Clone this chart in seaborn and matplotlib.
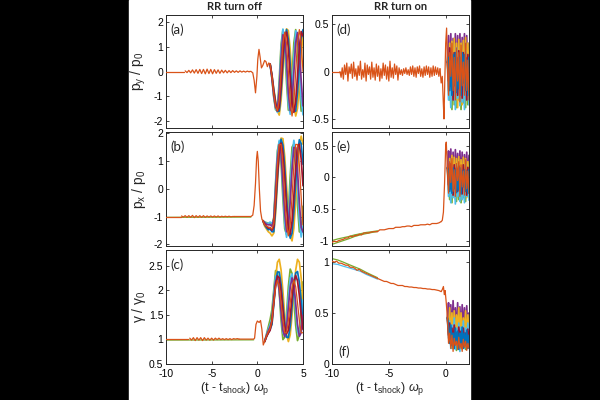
import numpy as np
import matplotlib
matplotlib.use("Agg")
import matplotlib.pyplot as plt
from matplotlib.patches import Rectangle
import seaborn as sns

# MATLAB default line colours, drawing order (orange ends on top)
cols = ['#77AC30', '#EDB120', '#4DBEEE', '#0072BD', '#7E2F8E', '#A2142F', '#D95319']
cols_r = ['#77AC30', '#7E2F8E', '#EDB120', '#4DBEEE', '#A2142F', '#0072BD', '#D95319']

# ---------- (a) p_y / p_0, RR turn off ----------
a_flat_t = [-10, -8.0]
a_flat_y = [0.0, 0.0]
a_wig_t = np.linspace(-7.9, -0.9, 36)
a_wig_y = [0.03, -0.04, 0.05, -0.05, 0.07, -0.06, 0.08, -0.07, 0.09, -0.08,
           0.09, -0.09, 0.1, -0.08, 0.09, -0.09, 0.08, -0.07, 0.07, -0.07,
           0.06, -0.05, 0.05, -0.05, 0.04, -0.04, 0.04, -0.03, 0.03, -0.03,
           0.03, -0.02, 0.02, -0.02, 0.02, -0.01]
a_shock_t = [-0.9, -0.7, -0.5, -0.35, -0.2, -0.05, 0.05, 0.18, 0.3, 0.45, 0.6, 0.8, 0.95, 1.1, 1.25, 1.4]
a_shock_y = [0.0, 0.01, -0.05, -0.35, -0.86, -0.2, 0.5, 0.9, 0.6, 0.15, 0.25, 0.45, 0.4, 0.2, 0.35, 0.3]
a_post_t = np.linspace(1.4, 5.0, 19)
a_post = [
    [0.3, -0.3, -1.05, -1.55, -1.5, -0.34, 1.1, 1.7, 1.0, -0.46, -1.56, -1.5, -0.27, 1.16, 1.7, 0.97, -0.53, -1.6, -1.45],
    [0.3, -0.13, -0.7, -1.2, -1.6, -1.76, -1.17, -0.07, 1.06, 1.73, 1.66, 0.88, -0.29, -1.31, -1.8, -1.49, -0.56, 0.63, 1.53],
    [0.3, -0.27, -1.0, -1.48, -1.65, -0.6, 0.88, 1.72, 1.35, 0.0, -1.33, -1.73, -0.89, 0.58, 1.65, 1.52, 0.33, -1.12, -1.75],
    [0.3, -0.15, -0.75, -1.25, -1.6, -1.6, -0.83, 0.31, 1.31, 1.7, 1.29, 0.27, -0.87, -1.6, -1.6, -0.83, 0.32, 1.33, 1.7],
    [0.3, -0.25, -0.97, -1.45, -1.55, -0.75, 0.54, 1.49, 1.42, 0.4, -0.9, -1.58, -1.22, -0.03, 1.17, 1.58, 0.94, -0.35, -1.39],
    [0.3, -0.17, -0.8, -1.3, -1.6, -1.45, -0.56, 0.59, 1.47, 1.6, 0.94, -0.23, -1.25, -1.65, -1.2, -0.17, 0.97, 1.62, 1.44],
    [0.3, -0.2, -0.9, -1.4, -1.6, -1.15, 0.0, 1.15, 1.6, 1.15, 0.0, -1.25, -1.8, -1.25, 0.0, 1.2, 1.7, 1.2, 0.0],
]

# ---------- (b) p_x / p_0, RR turn off ----------
b_flat_t = [-10, -8.4]
b_flat_y = [-1.0, -1.0]
b_wig_t = np.linspace(-8.3, -2.5, 30)
b_wig_y = [-0.98, -1.02, -0.97, -1.03, -0.97, -1.03, -0.96, -1.04, -0.97, -1.03,
           -0.97, -1.03, -0.97, -1.03, -0.98, -1.02, -0.98, -1.02, -0.98, -1.02,
           -0.98, -1.02, -0.99, -1.01, -0.99, -1.01, -0.99, -1.01, -1.0, -1.0]
b_shock_t = [-2.5, -0.7, -0.5, -0.35, -0.2, -0.08, 0.0, 0.1, 0.22, 0.35, 0.5, 0.6]
b_shock_y = [-1.0, -1.0, -0.95, -0.6, 0.2, 1.1, 1.35, 1.0, 0.0, -0.8, -1.1, -1.15]
b_low_t = [-10, -0.7]
b_low_y = [-1.03, -1.02]
b_post_t = np.linspace(0.6, 5.0, 23)
b_post = [
    [-1.15, -1.2, -1.22, -1.25, -1.25, -1.3, -1.04, 0.24, 1.38, 1.7, 0.95, -0.36, -1.44, -1.65, -0.85, 0.46, 1.5, 1.62, 0.74, -0.58, -1.55, -1.58, -0.63],
    [-1.15, -1.35, -1.45, -1.55, -1.6, -1.7, -1.6, -0.9, 0.19, 1.22, 1.83, 1.81, 1.17, 0.13, -0.95, -1.71, -1.88, -1.42, -0.46, 0.65, 1.54, 1.9, 1.61],
    [-1.15, -1.2, -1.25, -1.25, -1.2, -1.25, -1.15, 0.1, 1.29, 1.75, 1.21, -0.02, -1.24, -1.75, -1.24, -0.05, 1.18, 1.75, 1.31, 0.12, -1.14, -1.74, -1.35],
    [-1.15, -1.3, -1.4, -1.48, -1.45, -1.55, -1.55, -0.71, 0.38, 1.34, 1.79, 1.57, 0.77, -0.32, -1.3, -1.78, -1.6, -0.82, 0.26, 1.25, 1.77, 1.63, 0.88],
    [-1.15, -1.22, -1.28, -1.3, -1.3, -1.35, -1.1, -0.03, 1.07, 1.6, 1.26, 0.25, -0.89, -1.55, -1.38, -0.47, 0.7, 1.49, 1.48, 0.67, -0.49, -1.39, -1.56],
    [-1.15, -1.28, -1.35, -1.42, -1.4, -1.5, -1.37, -0.53, 0.51, 1.35, 1.65, 1.29, 0.4, -0.64, -1.43, -1.64, -1.18, -0.26, 0.77, 1.5, 1.61, 1.08, 0.11],
    [-1.15, -1.3, -1.35, -1.38, -1.4, -1.45, -1.25, -0.3, 0.85, 1.6, 1.6, 0.85, -0.3, -1.3, -1.7, -1.3, -0.3, 0.85, 1.6, 1.6, 0.85, -0.3, -1.3],
]

# ---------- (c) gamma / gamma_0, RR turn off ----------
c_flat_t = [-10, -7.6]
c_flat_y = [1.0, 1.0]
c_wig_t = np.linspace(-7.4, -2.0, 28)
c_wig_y = [1.02, 0.98, 1.03, 0.97, 1.03, 0.98, 1.03, 0.97, 1.03, 0.98,
           1.02, 0.98, 1.02, 0.98, 1.02, 0.99, 1.02, 0.99, 1.01, 0.99,
           1.01, 0.99, 1.01, 0.99, 1.01, 1.0, 1.01, 1.0]
c_shock_t = [-2.0, -0.4, -0.3, -0.15, 0.0, 0.2, 0.35, 0.5, 0.65, 0.8]
c_shock_y = [1.0, 1.0, 1.02, 1.3, 1.37, 1.34, 1.38, 1.2, 0.88, 0.95]
c_low_t = [-10, -0.4]
c_low_y = [0.98, 0.985]
c_post_t = np.linspace(0.8, 5.0, 22)
c_post = [
    [0.95, 1.1, 1.25, 1.4, 1.6, 2.0, 2.4, 2.38, 1.96, 1.37, 0.99, 1.04, 1.5, 2.08, 2.43, 2.34, 1.85, 1.28, 0.97, 1.09, 1.6, 2.17],
    [0.95, 1.05, 1.15, 1.25, 1.3, 1.77, 2.25, 2.57, 2.63, 2.41, 1.98, 1.48, 1.09, 0.95, 1.09, 1.48, 1.97, 2.41, 2.63, 2.57, 2.25, 1.77],
    [0.95, 1.08, 1.2, 1.3, 1.42, 1.91, 2.28, 2.32, 2.01, 1.53, 1.13, 1.07, 1.38, 1.86, 2.25, 2.33, 2.05, 1.56, 1.16, 1.06, 1.34, 1.8],
    [0.95, 1.05, 1.13, 1.2, 1.3, 1.71, 2.12, 2.37, 2.37, 2.12, 1.71, 1.31, 1.04, 1.03, 1.27, 1.67, 2.08, 2.35, 2.38, 2.16, 1.76, 1.34],
    [0.95, 1.07, 1.17, 1.25, 1.38, 1.81, 2.17, 2.24, 1.99, 1.57, 1.18, 1.05, 1.24, 1.65, 2.06, 2.25, 2.12, 1.73, 1.3, 1.06, 1.13, 1.49],
    [0.95, 1.05, 1.12, 1.18, 1.37, 1.74, 2.09, 2.29, 2.25, 1.98, 1.6, 1.27, 1.11, 1.18, 1.47, 1.84, 2.17, 2.3, 2.19, 1.89, 1.5, 1.2],
    [0.95, 1.06, 1.15, 1.22, 1.38, 1.74, 2.07, 2.2, 2.07, 1.74, 1.38, 1.13, 1.13, 1.38, 1.74, 2.07, 2.2, 2.07, 1.74, 1.38, 1.13, 1.13],
]

# ---------- (d) p_y / p_0, RR turn on ----------
d_flat_t = [-10, -9.3]
d_flat_y = [0.0, 0.0]
d_pre_t = np.linspace(-9.3, -0.5, 89)
d_pre_y = [0.0, -0.06, 0.04, -0.08, 0.07, -0.03, 0.09, -0.1, 0.05, -0.02,
           0.08, -0.07, 0.1, -0.05, 0.03, -0.09, 0.06, -0.04, 0.11, -0.08,
           0.02, -0.06, 0.09, -0.1, 0.07, -0.03, 0.05, -0.08, 0.1, -0.06,
           0.04, -0.09, 0.08, -0.05, 0.06, -0.1, 0.03, -0.07, 0.09, -0.04,
           0.07, -0.08, 0.05, -0.1, 0.11, -0.06, 0.04, -0.07, 0.08, -0.03,
           0.06, -0.09, 0.04,
           -0.03, 0.02, -0.04, 0.03, -0.02, 0.04, -0.03, 0.02, -0.04,
           0.05, -0.03, 0.06, -0.05, 0.04, -0.06, 0.05, -0.02, 0.06, -0.05,
           0.03, -0.06, 0.05, -0.04, 0.06, -0.03, 0.05, -0.06, 0.04, -0.05,
           0.06, -0.04, 0.05, -0.03, 0.04, -0.05, 0.03]
d_shock_t = [-0.5, -0.4, -0.3, -0.22, -0.15, -0.08, 0.0, 0.08, 0.15]
d_shock_y = [0.03, -0.12, -0.05, -0.3, -0.5, -0.1, 0.3, 0.46, 0.1]
r_post_t = np.linspace(0.15, 2.05, 20)
d_post = [
    [0.1, 0.25, -0.3, 0.2, -0.4, 0.3, -0.35, 0.22, -0.38, 0.25, -0.3, 0.28, -0.4, 0.2, -0.33, 0.3, -0.38, 0.25, -0.35, 0.2],
    [0.1, 0.38, -0.1, 0.4, -0.2, 0.35, 0.0, 0.4, -0.15, 0.38, -0.05, 0.4, -0.2, 0.36, 0.05, 0.4, -0.1, 0.38, -0.2, 0.3],
    [0.1, -0.2, 0.3, -0.35, 0.32, -0.25, 0.35, -0.3, 0.3, -0.38, 0.34, -0.2, 0.3, -0.35, 0.33, -0.3, 0.36, -0.25, 0.3, -0.2],
    [0.1, -0.3, 0.15, -0.38, 0.2, -0.3, 0.1, -0.4, 0.25, -0.28, 0.12, -0.36, 0.2, -0.32, 0.15, -0.4, 0.22, -0.3, 0.1, -0.35],
    [0.1, -0.1, 0.25, -0.15, 0.1, -0.3, 0.2, -0.1, 0.15, -0.25, 0.22, -0.12, 0.1, -0.28, 0.2, -0.08, 0.15, -0.3, 0.18, -0.1],
    [0.1, 0.15, -0.2, 0.1, -0.25, 0.18, -0.15, 0.2, -0.22, 0.1, -0.18, 0.15, -0.25, 0.2, -0.12, 0.18, -0.2, 0.12, -0.25, 0.15],
    [0.1, -0.25, 0.2, -0.05, 0.3, -0.2, 0.15, -0.3, 0.25, -0.1, 0.2, -0.32, 0.28, -0.15, 0.1, -0.25, 0.3, -0.2, 0.12, -0.3],
]

# ---------- (e) p_x / p_0, RR turn on ----------
e_pre_t = np.linspace(-10, -0.4, 49)
e_pre_y = [-1.03, -1.01, -1.02, -1.0, -0.99, -0.98, -0.96, -0.96, -0.93, -0.94,
           -0.92, -0.92, -0.9, -0.91, -0.88, -0.88, -0.88, -0.87, -0.86, -0.86,
           -0.86, -0.83, -0.83, -0.83, -0.82, -0.81, -0.81, -0.81, -0.79, -0.79,
           -0.79, -0.78, -0.78, -0.77, -0.77, -0.78, -0.76, -0.76, -0.76, -0.75,
           -0.75, -0.75, -0.74, -0.75, -0.73, -0.73, -0.73, -0.72, -0.7]
edge_t = [-10, -9.5, -9, -8.5, -8, -7.5, -7, -6.5, -6]
e_up_y = [-1.0, -0.975, -0.955, -0.935, -0.91, -0.892, -0.872, -0.86, -0.846]
e_lo_y = [-1.06, -1.03, -1.0, -0.97, -0.935, -0.91, -0.89, -0.872, -0.856]
e_shock_t = [-0.4, -0.3, -0.2, -0.1, 0.0, 0.05, 0.15]
e_shock_y = [-0.7, -0.68, -0.55, -0.1, 0.5, 0.56, 0.15]
e_post = [
    [0.15, 0.2, -0.35, 0.25, -0.4, 0.22, -0.3, 0.28, -0.38, 0.2, -0.35, 0.25, -0.4, 0.18, -0.32, 0.26, -0.38, 0.22, -0.3, 0.2],
    [0.15, 0.42, -0.1, 0.45, -0.05, 0.4, -0.15, 0.44, 0.0, 0.38, -0.1, 0.42, -0.05, 0.4, -0.12, 0.36, 0.0, 0.4, -0.1, 0.35],
    [0.15, -0.2, 0.3, -0.3, 0.35, -0.25, 0.32, -0.35, 0.3, -0.28, 0.33, -0.3, 0.28, -0.35, 0.32, -0.25, 0.3, -0.32, 0.25, -0.2],
    [0.15, -0.3, 0.1, -0.4, 0.18, -0.32, 0.05, -0.42, 0.2, -0.3, 0.1, -0.38, 0.15, -0.35, 0.12, -0.4, 0.2, -0.3, 0.08, -0.36],
    [0.15, -0.12, 0.22, -0.18, 0.08, -0.28, 0.2, -0.12, 0.15, -0.22, 0.18, -0.1, 0.1, -0.26, 0.2, -0.08, 0.12, -0.28, 0.16, -0.1],
    [0.15, 0.1, -0.22, 0.05, -0.25, 0.15, -0.18, 0.12, -0.24, 0.08, -0.2, 0.15, -0.26, 0.1, -0.15, 0.12, -0.22, 0.1, -0.25, 0.12],
    [0.15, -0.25, 0.25, -0.08, 0.3, -0.22, 0.12, -0.3, 0.22, -0.05, 0.25, -0.3, 0.2, -0.15, 0.1, -0.28, 0.28, -0.18, 0.1, -0.25],
]

# ---------- (f) gamma / gamma_0, RR turn on ----------
f_pre_t = np.linspace(-10, -0.4, 49)
f_pre_y = [1.01, 1.0, 1.01, 0.99, 0.99, 0.98, 0.97, 0.97, 0.95, 0.95,
           0.94, 0.92, 0.93, 0.91, 0.9, 0.89, 0.88, 0.87, 0.86, 0.85,
           0.84, 0.83, 0.82, 0.81, 0.81, 0.8, 0.79, 0.79, 0.78, 0.77,
           0.77, 0.77, 0.76, 0.76, 0.755, 0.755, 0.75, 0.75, 0.745, 0.745,
           0.74, 0.74, 0.735, 0.735, 0.73, 0.73, 0.725, 0.72, 0.71]
f_up_y = [1.035, 1.022, 1.0, 0.976, 0.953, 0.93, 0.9, 0.873, 0.847]
f_lo_y = [0.985, 0.978, 0.96, 0.944, 0.927, 0.91, 0.88, 0.857, 0.833]
f_shock_t = [-0.4, -0.3, -0.2, -0.12, -0.05, 0.05, 0.15]
f_shock_y = [0.71, 0.73, 0.76, 0.68, 0.72, 0.6, 0.45]
f_post = [
    [0.45, 0.5, 0.2, 0.45, 0.15, 0.42, 0.2, 0.48, 0.13, 0.4, 0.18, 0.45, 0.15, 0.38, 0.2, 0.44, 0.14, 0.4, 0.18, 0.35],
    [0.45, 0.6, 0.3, 0.58, 0.25, 0.62, 0.35, 0.55, 0.28, 0.6, 0.3, 0.56, 0.22, 0.58, 0.32, 0.55, 0.25, 0.57, 0.3, 0.5],
    [0.45, 0.3, 0.55, 0.2, 0.5, 0.25, 0.52, 0.18, 0.48, 0.3, 0.55, 0.22, 0.5, 0.2, 0.45, 0.28, 0.52, 0.2, 0.48, 0.25],
    [0.45, 0.25, 0.42, 0.15, 0.38, 0.2, 0.45, 0.14, 0.35, 0.22, 0.4, 0.12, 0.36, 0.18, 0.42, 0.15, 0.35, 0.2, 0.4, 0.15],
    [0.45, 0.28, 0.4, 0.22, 0.35, 0.18, 0.38, 0.25, 0.3, 0.2, 0.36, 0.24, 0.32, 0.18, 0.35, 0.22, 0.3, 0.2, 0.34, 0.22],
    [0.45, 0.35, 0.2, 0.38, 0.18, 0.3, 0.15, 0.35, 0.2, 0.32, 0.14, 0.3, 0.2, 0.36, 0.15, 0.3, 0.18, 0.33, 0.15, 0.28],
    [0.45, 0.2, 0.3, 0.15, 0.28, 0.12, 0.25, 0.18, 0.22, 0.14, 0.26, 0.15, 0.2, 0.12, 0.24, 0.16, 0.22, 0.13, 0.2, 0.15],
]

# ---------- style ----------
sns.set_theme(style="ticks")
plt.rcParams['font.family'] = ['Liberation Sans', 'DejaVu Sans']
plt.rcParams['mathtext.fontset'] = 'custom'
plt.rcParams['mathtext.rm'] = 'Liberation Sans'
plt.rcParams['mathtext.it'] = 'Liberation Sans:italic'
plt.rcParams['axes.unicode_minus'] = False

ORANGE = '#D95319'
LW = 0.9
LW_BAND = 1.25


def line(ax, t, y, col, lw=LW, z=2):
    sns.lineplot(x=t, y=y, color=col, lw=lw, ax=ax, estimator=None, sort=False, zorder=z)


def band(ax, t, series, colors):
    # ensemble of trajectories, the last (orange) one thinner and on top
    for k, ys in enumerate(series):
        last = k == len(series) - 1
        line(ax, t, ys, colors[k], lw=LW if last else LW_BAND)


fig = plt.figure(figsize=(6, 4), dpi=100)
fig.patch.set_facecolor('black')
fig.add_artist(Rectangle((129 / 600, 0), (470 - 129) / 600, 1, transform=fig.transFigure,
                         color='white', zorder=0))

lx, rx, w = 166 / 600, 332 / 600, 137 / 600
bottoms = [0.679, 0.386, 0.091]
h = 0.284
axes = {}
for i, key in enumerate(['a', 'b', 'c']):
    axes[key] = fig.add_axes([lx, bottoms[i], w, h])
for i, key in enumerate(['d', 'e', 'f']):
    axes[key] = fig.add_axes([rx, bottoms[i], w, h])

# left column
ax = axes['a']
band(ax, a_post_t, a_post, cols)
for t, y in [(a_flat_t, a_flat_y), (a_wig_t, a_wig_y), (a_shock_t, a_shock_y)]:
    line(ax, t, y, ORANGE, z=3)

ax = axes['b']
line(ax, b_low_t, b_low_y, '#77AC30')
band(ax, b_post_t, b_post, cols)
for t, y in [(b_flat_t, b_flat_y), (b_wig_t, b_wig_y), (b_shock_t, b_shock_y)]:
    line(ax, t, y, ORANGE, z=3)

ax = axes['c']
line(ax, c_low_t, c_low_y, '#77AC30')
band(ax, c_post_t, c_post, cols)
for t, y in [(c_flat_t, c_flat_y), (c_wig_t, c_wig_y), (c_shock_t, c_shock_y)]:
    line(ax, t, y, ORANGE, z=3)

# right column
ax = axes['d']
band(ax, r_post_t, d_post, cols_r)
for t, y in [(d_flat_t, d_flat_y), (d_pre_t, d_pre_y), (d_shock_t, d_shock_y)]:
    line(ax, t, y, ORANGE, z=3)

ax = axes['e']
line(ax, edge_t, e_up_y, '#77AC30')
line(ax, edge_t, e_lo_y, '#77AC30')
band(ax, r_post_t, e_post, cols_r)
for t, y in [(e_pre_t, e_pre_y), (e_shock_t, e_shock_y)]:
    line(ax, t, y, ORANGE, z=3)

ax = axes['f']
line(ax, edge_t, f_up_y, '#77AC30')
line(ax, edge_t, f_lo_y, '#4DBEEE')
band(ax, r_post_t, f_post, cols_r)
for t, y in [(f_pre_t, f_pre_y), (f_shock_t, f_shock_y)]:
    line(ax, t, y, ORANGE, z=3)

# axes limits / ticks
lims = {'a': (-2.3, 2.3), 'b': (-2.05, 2.05), 'c': (0.5, 2.82),
        'd': (-0.6, 0.6), 'e': (-1.08, 0.72), 'f': (0.0, 1.12)}
yticks = {'a': [-2, -1, 0, 1, 2], 'b': [-2, -1, 0, 1, 2], 'c': [0.5, 1, 1.5, 2, 2.5],
          'd': [-0.5, 0, 0.5], 'e': [-1, -0.5, 0, 0.5], 'f': [0, 0.5, 1]}
ylabels = {'a': r'p$\mathregular{_y}$ / p$\mathregular{_0}$',
           'b': r'p$\mathregular{_x}$ / p$\mathregular{_0}$',
           'c': r'$\mathregular{\gamma}$ / $\mathregular{\gamma_0}$'}
xlab = r'(t - t$\mathregular{_{shock}}$) $\omega_\mathregular{p}$'

for key, ax in axes.items():
    left = key in 'abc'
    ax.set_facecolor('white')
    ax.set_xlim(-10, 5 if left else 2.05)
    ax.set_ylim(*lims[key])
    ax.set_xticks([-10, -5, 0, 5] if left else [-10, -5, 0])
    ax.set_yticks(yticks[key])
    ax.set_yticklabels([f'{v:g}' for v in yticks[key]])
    ax.set_xlabel('')
    ax.set_ylabel('')
    ax.tick_params(direction='in', length=2.5, width=0.6, top=True, right=True,
                   labelsize=7.5, pad=2, color='#262626', labelcolor='black')
    ax.tick_params(axis='x', pad=4)
    for sp in ax.spines.values():
        sp.set_color('#262626')
        sp.set_linewidth(0.7)
        sp.set_visible(True)
    if key in 'cf':
        ax.set_xticklabels([f'{v:g}' for v in ax.get_xticks()])
        ax.set_xlabel(xlab, fontsize=9)
        ax.xaxis.set_label_coords(0.5 if left else 0.42, -0.14)
    else:
        ax.set_xticklabels([])
    if left:
        ax.set_ylabel(ylabels[key], fontsize=10)
        ax.yaxis.set_label_coords(-0.13, 0.5)
    if key == 'f':
        ax.text(0.05, 0.105, '(f)', transform=ax.transAxes, fontsize=9.5,
                va='center', ha='left', family=['Lato', 'DejaVu Sans'])
    else:
        ax.text(0.035, 0.87, f'({key})', transform=ax.transAxes, fontsize=9.5,
                va='center', ha='left', family=['Lato', 'DejaVu Sans'])

fig.text(lx + w / 2, 1 - 7 / 400, 'RR turn off', ha='center', va='center',
         fontsize=8, fontweight='bold', family=['Lato', 'DejaVu Sans'])
fig.text(rx + w / 2, 1 - 7 / 400, 'RR turn on', ha='center', va='center',
         fontsize=8, fontweight='bold', family=['Lato', 'DejaVu Sans'])

fig.savefig('out.png', dpi=100, facecolor=fig.get_facecolor())
